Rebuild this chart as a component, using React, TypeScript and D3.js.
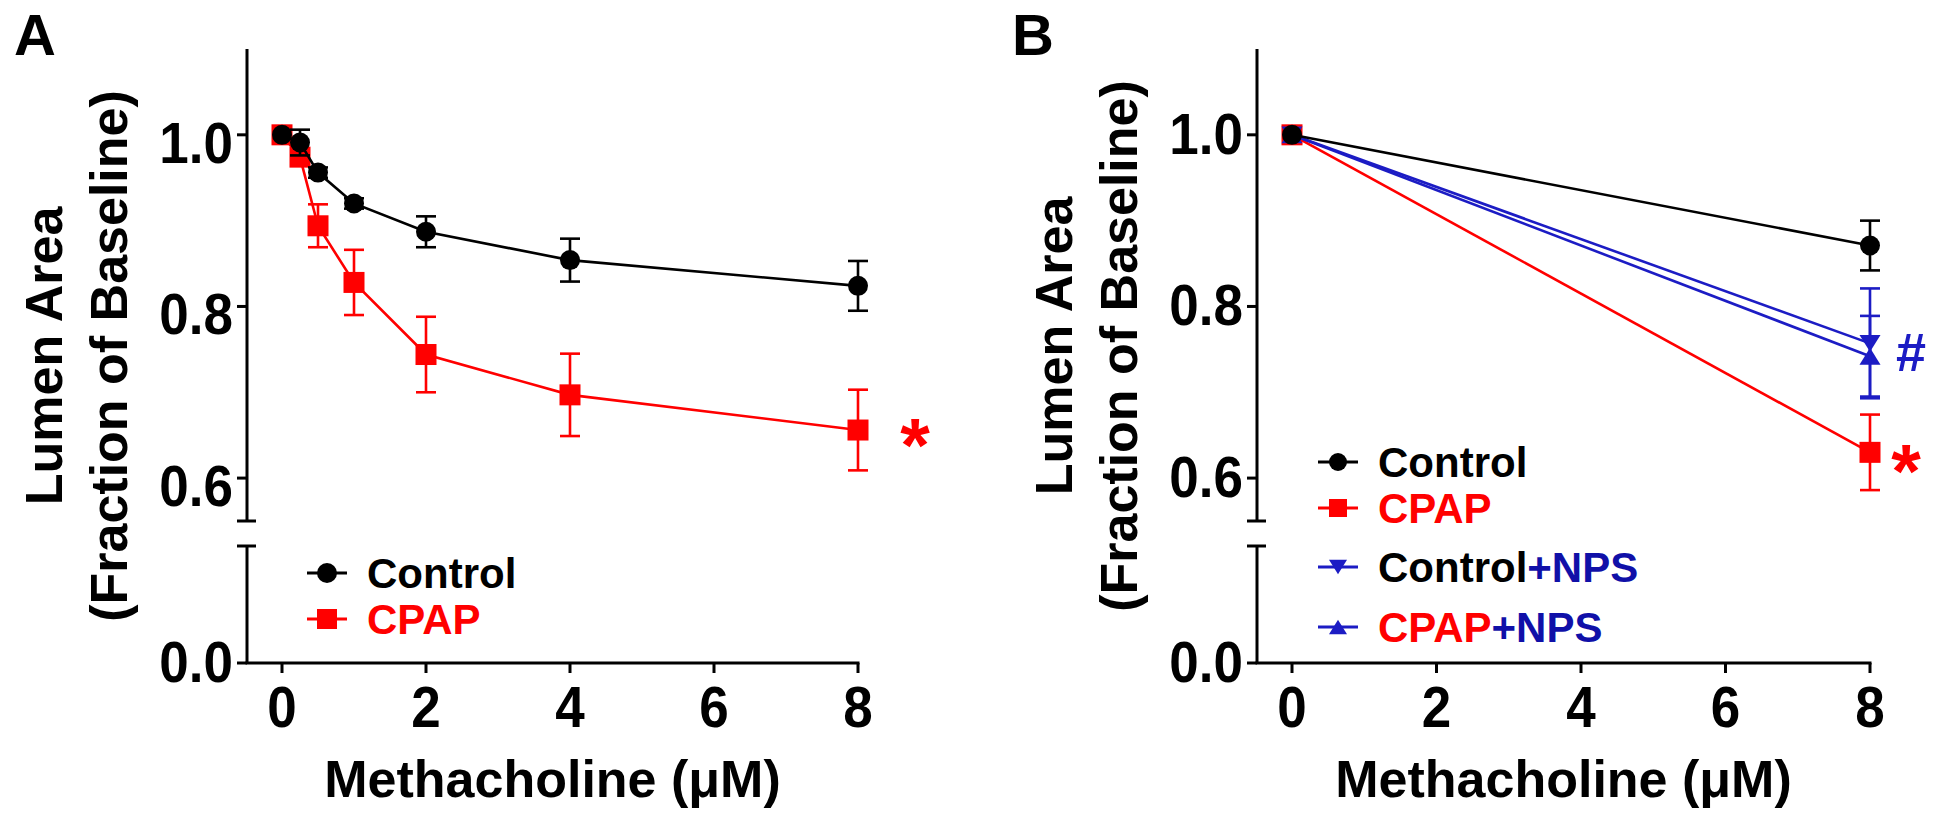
import React from 'react';
import * as d3 from 'd3';

// ---------- data ----------
const doseA = [0, 0.25, 0.5, 1, 2, 4, 8];
const controlA = [1.0, 0.991, 0.956, 0.92, 0.887, 0.854, 0.824];
const controlASem = [0, 0.015, 0.006, 0.006, 0.018, 0.025, 0.029];
const cpapA = [1.0, 0.974, 0.894, 0.828, 0.744, 0.697, 0.656];
const cpapASem = [0, 0.006, 0.025, 0.038, 0.044, 0.048, 0.047];

const doseB = [0, 8];
const controlB = [1.0, 0.871];
const controlBSem = [0, 0.029];
const cpapB = [1.0, 0.63];
const cpapBSem = [0, 0.044];
const controlNpsB = [1.0, 0.757];
const controlNpsBSem = [0, 0.064];
const cpapNpsB = [1.0, 0.742];
const cpapNpsBSem = [0, 0.047];

const xTicks = [0, 2, 4, 6, 8];
const yTicksUpper = [0.6, 0.8, 1.0];
const yTicksLower = [0.0];

const xLabel = 'Methacholine (\u03BCM)';
const yLabel1 = 'Lumen Area';
const yLabel2 = '(Fraction of Baseline)';

// ---------- style ----------
const FONT = '"Liberation Sans", Arial, Helvetica, sans-serif';
const BLACK = '#000000';
const RED = '#ff0000';
const BLUE = '#1c1cc4';
const BLUE_TEXT = '#1010a8';

type Shape = 'circle' | 'square' | 'down' | 'up';
type Series = { x: number[]; y: number[]; sem: number[]; color: string; shape: Shape };

function Marker({ shape, x, y, s, color }: { shape: Shape; x: number; y: number; s: number; color: string }) {
  if (shape === 'circle') return <circle cx={x} cy={y} r={s / 2} fill={color} />;
  if (shape === 'square') return <rect x={x - s / 2} y={y - s / 2} width={s} height={s} fill={color} />;
  const h = s * 0.8;
  if (shape === 'down')
    return <path d={`M${x - s / 2},${y - h / 2}L${x + s / 2},${y - h / 2}L${x},${y + h / 2}Z`} fill={color} />;
  return <path d={`M${x - s / 2},${y + h / 2}L${x + s / 2},${y + h / 2}L${x},${y - h / 2}Z`} fill={color} />;
}

type LegendItem = { shape: Shape; color: string; parts: { t: string; c: string }[]; y: number };

function Panel({
  axisX,
  xRange,
  series,
  letter,
  letterX,
  titleCY,
  upperLabelDy,
  legend,
  legendX,
  legendMarker,
  annotations,
}: {
  axisX: number;
  xRange: [number, number];
  series: Series[];
  letter: string;
  letterX: number;
  titleCY: number;
  upperLabelDy: number;
  legend: LegendItem[];
  legendX: number;
  legendMarker: number;
  annotations: { t: string; x: number; y: number; c: string; size: number }[];
}) {
  const x = d3.scaleLinear().domain([0, 8]).range(xRange);
  const yU = d3.scaleLinear().domain([0.55, 1.1]).range([521, 49]);
  const yL = d3.scaleLinear().domain([0, 0.1]).range([663, 546]);
  const sw = 3;
  const line = d3
    .line<[number, number]>()
    .x((d) => x(d[0]))
    .y((d) => yU(d[1]));
  const cap = 10;
  const tickText = (tx: number, ty: number, s: string, anchor: string) => (
    <text transform={`translate(${tx},${ty}) scale(1,1.07)`} fontSize={53} textAnchor={anchor}>
      {s}
    </text>
  );
  return (
    <g fontFamily={FONT} fontWeight="bold">
      <text x={letterX} y={55} fontSize={58}>
        {letter}
      </text>
      {/* y axis upper segment */}
      <line x1={axisX} x2={axisX} y1={yU(1.1)} y2={yU(0.55)} stroke={BLACK} strokeWidth={sw} />
      <line x1={axisX - 10} x2={axisX + 9} y1={yU(0.55)} y2={yU(0.55)} stroke={BLACK} strokeWidth={sw} />
      {yTicksUpper.map((t) => (
        <g key={t}>
          <line x1={axisX - 10} x2={axisX} y1={yU(t)} y2={yU(t)} stroke={BLACK} strokeWidth={sw} />
          {tickText(axisX - 14, yU(t) + upperLabelDy, t.toFixed(1), 'end')}
        </g>
      ))}
      {/* y axis lower segment */}
      <line x1={axisX} x2={axisX} y1={yL(0.1)} y2={yL(0)} stroke={BLACK} strokeWidth={sw} />
      <line x1={axisX - 10} x2={axisX + 9} y1={yL(0.1)} y2={yL(0.1)} stroke={BLACK} strokeWidth={sw} />
      {yTicksLower.map((t) => (
        <g key={t}>
          <line x1={axisX - 10} x2={axisX} y1={yL(t)} y2={yL(t)} stroke={BLACK} strokeWidth={sw} />
          {tickText(axisX - 14, yL(t) + 19, t.toFixed(1), 'end')}
        </g>
      ))}
      {/* x axis */}
      <line x1={axisX - 1.5} x2={x(8) + 1.5} y1={yL(0)} y2={yL(0)} stroke={BLACK} strokeWidth={sw} />
      {xTicks.map((t) => (
        <g key={t}>
          <line x1={x(t)} x2={x(t)} y1={yL(0)} y2={yL(0) + 10} stroke={BLACK} strokeWidth={sw} />
          {tickText(x(t), 727, String(t), 'middle')}
        </g>
      ))}
      <text x={(axisX + x(8)) / 2} y={797} fontSize={52} textAnchor="middle">
        {xLabel}
      </text>
      <text transform={`translate(${axisX - 185},${titleCY}) rotate(-90)`} fontSize={52} textAnchor="middle">
        {yLabel1}
      </text>
      <text transform={`translate(${axisX - 120},${titleCY}) rotate(-90)`} fontSize={52} textAnchor="middle">
        {yLabel2}
      </text>
      {/* series */}
      {series.map((s, i) => {
        const pts = s.x.map((v, j) => [v, s.y[j]] as [number, number]);
        return (
          <g key={i}>
            <path d={line(pts) || ''} fill="none" stroke={s.color} strokeWidth={2.6} />
            {pts.map((p, j) =>
              s.sem[j] > 0 ? (
                <g key={j} stroke={s.color} strokeWidth={2.6}>
                  <line x1={x(p[0])} x2={x(p[0])} y1={yU(p[1] - s.sem[j])} y2={yU(p[1] + s.sem[j])} />
                  <line x1={x(p[0]) - cap} x2={x(p[0]) + cap} y1={yU(p[1] - s.sem[j])} y2={yU(p[1] - s.sem[j])} />
                  <line x1={x(p[0]) - cap} x2={x(p[0]) + cap} y1={yU(p[1] + s.sem[j])} y2={yU(p[1] + s.sem[j])} />
                </g>
              ) : null
            )}
            {pts.map((p, j) => (
              <Marker key={j} shape={s.shape} x={x(p[0])} y={yU(p[1])} s={s.shape === 'circle' ? 20 : 21} color={s.color} />
            ))}
          </g>
        );
      })}
      {annotations.map((a, i) => (
        <text key={i} x={a.x} y={a.y} fontSize={a.size} fill={a.c} textAnchor="middle">
          {a.t}
        </text>
      ))}
      {/* legend */}
      {legend.map((l, i) => (
        <g key={i}>
          <line x1={legendX - 20} x2={legendX + 20} y1={l.y} y2={l.y} stroke={l.color} strokeWidth={3} />
          <Marker shape={l.shape} x={legendX} y={l.y} s={legendMarker} color={l.color} />
          <text x={legendX + 40} y={l.y + 15} fontSize={42}>
            {l.parts.map((p, k) => (
              <tspan key={k} fill={p.c}>
                {p.t}
              </tspan>
            ))}
          </text>
        </g>
      ))}
    </g>
  );
}

export default function App() {
  const seriesA: Series[] = [
    { x: doseA, y: cpapA, sem: cpapASem, color: RED, shape: 'square' },
    { x: doseA, y: controlA, sem: controlASem, color: BLACK, shape: 'circle' },
  ];
  const seriesB: Series[] = [
    { x: doseB, y: cpapB, sem: cpapBSem, color: RED, shape: 'square' },
    { x: doseB, y: cpapNpsB, sem: cpapNpsBSem, color: BLUE, shape: 'up' },
    { x: doseB, y: controlNpsB, sem: controlNpsBSem, color: BLUE, shape: 'down' },
    { x: doseB, y: controlB, sem: controlBSem, color: BLACK, shape: 'circle' },
  ];
  const legendA: LegendItem[] = [
    { shape: 'circle', color: BLACK, parts: [{ t: 'Control', c: BLACK }], y: 573 },
    { shape: 'square', color: RED, parts: [{ t: 'CPAP', c: RED }], y: 619 },
  ];
  const legendB: LegendItem[] = [
    { shape: 'circle', color: BLACK, parts: [{ t: 'Control', c: BLACK }], y: 462 },
    { shape: 'square', color: RED, parts: [{ t: 'CPAP', c: RED }], y: 508 },
    { shape: 'down', color: BLUE, parts: [{ t: 'Control', c: BLACK }, { t: '+NPS', c: BLUE_TEXT }], y: 567 },
    { shape: 'up', color: BLUE, parts: [{ t: 'CPAP', c: RED }, { t: '+NPS', c: BLUE_TEXT }], y: 627 },
  ];
  return (
    <svg
      width={1950}
      height={827}
      style={{ position: 'absolute', left: 0, top: 0, background: '#ffffff' }}
    >
      <rect width={1950} height={827} fill="#ffffff" />
      <Panel
        axisX={247}
        xRange={[282, 858]}
        series={seriesA}
        letter="A"
        letterX={14}
        titleCY={356}
        upperLabelDy={28}
        legend={legendA}
        legendX={327}
        legendMarker={20}
        annotations={[{ t: '*', x: 915, y: 471, c: RED, size: 76 }]}
      />
      <Panel
        axisX={1257}
        xRange={[1292, 1870]}
        series={seriesB}
        letter="B"
        letterX={1012}
        titleCY={346}
        upperLabelDy={19}
        legend={legendB}
        legendX={1338}
        legendMarker={18}
        annotations={[
          { t: '*', x: 1906, y: 497, c: RED, size: 76 },
          { t: '#', x: 1911, y: 371, c: BLUE, size: 54 },
        ]}
      />
    </svg>
  );
}
